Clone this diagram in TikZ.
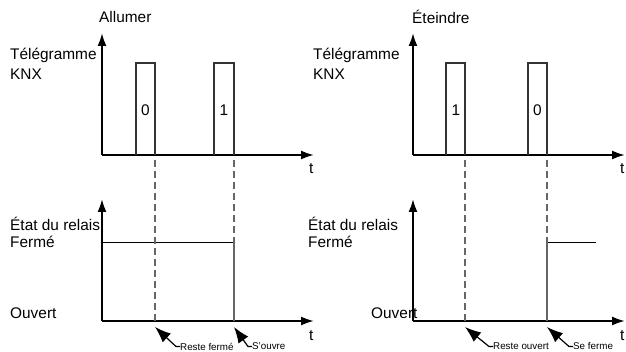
\documentclass[tikz,border=0pt]{standalone}
\usepackage{fontspec}
\setmainfont{Liberation Sans}
\usetikzlibrary{arrows.meta}
\begin{document}
\begin{tikzpicture}[x=1pt,y=-1pt,
  lbl/.style={font=\fontsize{15.4}{18}\selectfont,inner sep=0pt,anchor=west},
  note/.style={font=\fontsize{9.8}{11}\selectfont,inner sep=0pt,anchor=west},
  axis/.style={line width=2pt,black,-{Latex[length=13pt,width=9pt]}},
  pulse/.style={line width=1.1pt,black!80},
  level/.style={line width=1pt,black},
  edge/.style={line width=1.6pt,black!60},
  guide/.style={line width=1.1pt,black!60,dash pattern=on 7pt off 4pt},
  callout/.style={line width=1.2pt,black,-{Latex[length=16pt,width=12pt]}}]
\useasboundingbox (0,0) rectangle (626,352);

% ---------- Allumer ----------
\node[lbl] (titleA) at (99,17) {Allumer};
\node[lbl] (telA) at (10,55) {Télégramme};
\node[lbl] (knxA) at (10,74) {KNX};
\coordinate (oA) at (102,155);
\draw[axis] (oA) -- (102,33);
\draw[axis] (oA) -- (314,155);
\node[lbl] (tA1) at (309,169) {t};
\draw[pulse] (136,155) -- (136,63) -- (155,63) -- (155,155);
\draw[pulse] (214,155) -- (214,63) -- (234,63) -- (234,155);
\node[lbl,anchor=center] (zeroA) at (145.5,110) {0};
\node[lbl,anchor=center] (oneA) at (224,110) {1};

\node[lbl] (relA) at (10,224) {État du relais};
\node[lbl] (fermA) at (10,242) {Fermé};
\node[lbl] (ouvA) at (10,313) {Ouvert};
\coordinate (pA) at (102,321);
\draw[axis] (pA) -- (102,199);
\draw[axis] (pA) -- (314,321);
\node[lbl] (tA2) at (309,336) {t};
\draw[level] (102,243) -- (234,243);
\draw[edge] (234,243) -- (234,321);
\draw[guide] (155,160) -- (155,321);
\draw[guide] (234,160) -- (234,243);

\node[note] (restA) at (180,346.5) {Reste fermé};
\node[note] (openA) at (252,346.5) {S'ouvre};
\coordinate (hitA1) at (155,327);
\coordinate (hitA2) at (234,327);
\draw[callout] (restA.west) -- ++(-4,0) -- (hitA1);
\draw[callout] (openA.west) -- ++(-4,0) -- (hitA2);

% ---------- Éteindre ----------
\node[lbl] (titleB) at (412,17) {Éteindre};
\node[lbl] (telB) at (313,55) {Télégramme};
\node[lbl] (knxB) at (313,74) {KNX};
\coordinate (oB) at (413,155);
\draw[axis] (oB) -- (413,33);
\draw[axis] (oB) -- (625,155);
\node[lbl] (tB1) at (620,169) {t};
\draw[pulse] (446,155) -- (446,63) -- (465,63) -- (465,155);
\draw[pulse] (528,155) -- (528,63) -- (547,63) -- (547,155);
\node[lbl,anchor=center] (oneB) at (456,110) {1};
\node[lbl,anchor=center] (zeroB) at (537.5,110) {0};

\node[lbl] (relB) at (308,224) {État du relais};
\node[lbl] (fermB) at (308,242) {Fermé};
\node[lbl] (ouvB) at (371,313) {Ouvert};
\coordinate (pB) at (413,321);
\draw[axis] (pB) -- (413,199);
\draw[axis] (pB) -- (625,321);
\node[lbl] (tB2) at (620,336) {t};
\draw[edge] (547,321) -- (547,243);
\draw[level] (547,243) -- (596,243);
\draw[guide] (465,160) -- (465,321);
\draw[guide] (547,160) -- (547,243);

\node[note] (restB) at (493,346.5) {Reste ouvert};
\node[note] (closeB) at (573,346.5) {Se ferme};
\coordinate (hitB1) at (465,327);
\coordinate (hitB2) at (547,327);
\draw[callout] (restB.west) -- ++(-4,0) -- (hitB1);
\draw[callout] (closeB.west) -- ++(-4,0) -- (hitB2);
\end{tikzpicture}
\end{document}
